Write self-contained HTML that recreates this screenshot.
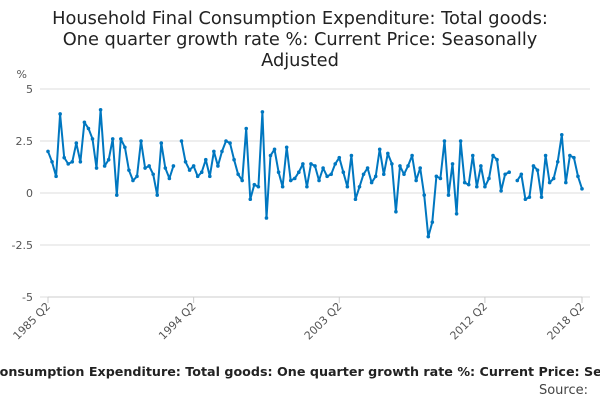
<!DOCTYPE html>
<html><head><meta charset="utf-8"><style>
body{margin:0;width:600px;height:400px;overflow:hidden;background:#fff;font-family:"DejaVu Sans","Liberation Sans",sans-serif}
</style></head><body>
<svg id="c" width="600" height="400" xmlns="http://www.w3.org/2000/svg" font-family="DejaVu Sans, Liberation Sans, sans-serif">
<text x="300" y="24" text-anchor="middle" font-size="17.8" fill="#222">Household Final Consumption Expenditure: Total goods:<tspan x="300" dy="21">One quarter growth rate %: Current Price: Seasonally</tspan><tspan x="300" dy="21">Adjusted</tspan></text>
<text x="27" y="78" text-anchor="end" font-size="11" fill="#555">%</text>
<g id="grid"></g><g id="xt"></g>
<path id="line" fill="none" stroke="#0077c0" stroke-width="2" stroke-linejoin="round"></path>
<g id="pts"></g>
<text x="300" y="376" text-anchor="middle" font-size="12.7" font-weight="bold" fill="#222">Household Final Consumption Expenditure: Total goods: One quarter growth rate %: Current Price: Seasonally Adjusted</text>
<text x="588" y="394" text-anchor="end" font-size="13" fill="#444">Source:</text>
</svg>
<script>
const values=[2.0,1.5,0.8,3.8,1.7,1.4,1.5,2.4,1.5,3.4,3.1,2.6,1.2,4.0,1.3,1.6,2.6,-0.1,2.6,2.2,1.1,0.6,0.8,2.5,1.2,1.3,0.9,-0.1,2.4,1.2,0.7,1.3,null,
2.5,1.5,1.1,1.3,0.8,1.0,1.6,0.8,2.0,1.3,2.0,2.5,2.4,1.6,0.9,0.6,3.1,-0.3,0.4,0.3,3.9,-1.2,1.8,2.1,1.0,0.3,2.2,0.6,0.7,1.0,1.4,0.3,1.4,1.3,0.6,1.2,0.8,0.9,1.4,
1.7,1.0,0.3,1.8,-0.3,0.3,0.9,1.2,0.5,0.8,2.1,0.9,1.9,1.4,-0.9,1.3,0.9,1.3,1.8,0.6,1.2,-0.1,-2.1,-1.4,0.8,0.7,2.5,-0.1,1.4,-1.0,2.5,0.5,0.4,1.8,0.3,1.3,
0.3,0.7,1.8,1.6,0.1,0.9,1.0,null,0.6,0.9,-0.3,-0.2,1.3,1.1,-0.2,1.8,0.5,0.7,1.5,2.8,0.5,1.8,1.7,0.8,0.2];
const yTicks=[5,2.5,0,-2.5,-5];
const yTickLabels=["5","2.5","0","-2.5","-5"];
const xTickIdx=[0,36,72,108,132];
const xTickLabels=["1985 Q2","1994 Q2","2003 Q2","2012 Q2","2018 Q2"];
const X0=48,X1=582,Y0=89,Y1=297;
const ns="http://www.w3.org/2000/svg";
const x=i=>X0+(X1-X0)*i/(values.length-1);
const y=v=>Y0+(5-v)/10*(Y1-Y0);
function mk(t,a,p){const e=document.createElementNS(ns,t);for(const k in a)e.setAttribute(k,a[k]);p.appendChild(e);return e;}
const grid=document.getElementById('grid');
yTicks.forEach((v,k)=>{
 const l=mk('line',{x1:X0-8,x2:590,y1:y(v),y2:y(v),stroke:'#ddd','stroke-width':1},grid);
 
 
 const t=mk('text',{x:33,y:y(v)+4,'text-anchor':'end','font-size':11,fill:'#555'},grid);
 t.textContent=yTickLabels[k];
 
 
});
const xt=document.getElementById('xt');
mk('line',{x1:X0,x2:X1,y1:Y1,y2:Y1,stroke:'#ccc'},xt);
xTickIdx.forEach((i,k)=>{
 const tk=mk('line',{x1:x(i),x2:x(i),y1:Y1,y2:Y1+6,stroke:'#ccc'},xt);
 
 
 const t=mk('text',{x:x(i)+3,y:Y1+10,'text-anchor':'end','font-size':11,fill:'#555',transform:`rotate(-45 ${x(i)+3} ${Y1+10})`},xt);
 t.textContent=xTickLabels[k];
 
 
});
let d='',pen=false;
const pts=document.getElementById('pts');
values.forEach((v,i)=>{
 if(v===null){pen=false;return;}
 d+=(pen?'L':'M')+x(i).toFixed(1)+' '+y(v).toFixed(1);pen=true;
 const c=mk('circle',{cx:x(i),cy:y(v),r:1.8,fill:'#0077c0'},pts);
 
 
});
const ln=document.getElementById('line');ln.setAttribute('d',d);


</script>
</body></html>
